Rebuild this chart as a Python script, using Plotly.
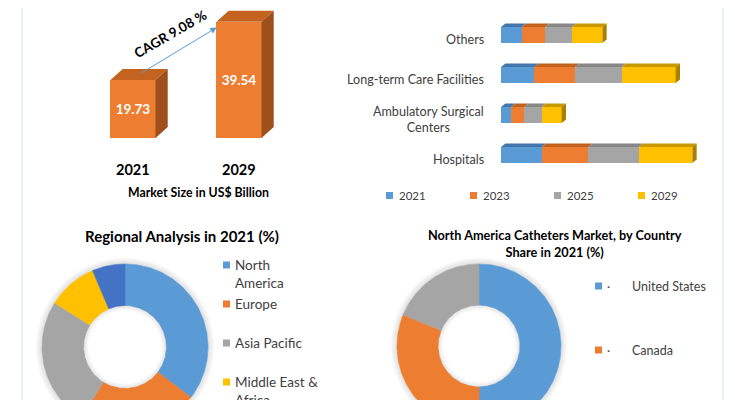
import numpy as np
import plotly.graph_objects as go

# page body adds an 8px margin; figure is sized/offset to fill the 735x400 window
OFF = 8
W, H = 735 - OFF, 400 - OFF
FONT = "Lato"

# ---------------- data ----------------
size_years = ["2021", "2029"]
size_values = [19.73, 39.54]
cagr_text = "CAGR 9.08 %"
size_caption = "Market Size in US$ Billion"

enduser_categories = ["Hospitals", "Ambulatory Surgical<br>Centers", "Long-term Care Facilities", "Others"]
enduser_years = ["2021", "2023", "2025", "2029"]
enduser_2021 = [6.1, 1.5, 5.0, 3.1]
enduser_2023 = [7.0, 2.0, 6.1, 3.5]
enduser_2025 = [7.6, 2.6, 7.0, 4.0]
enduser_2029 = [8.0, 3.0, 8.1, 4.6]

region_title = "Regional Analysis in 2021 (%)"
regions = ["North America", "Europe", "Asia Pacific", "Middle East & Africa", "Latin America"]
region_legend_labels = ["North<br>America", "Europe", "Asia Pacific", "Middle East &<br>Africa", "Latin America"]
region_share = [35.4, 23.4, 25.1, 9.7, 6.4]

country_title = "North America Catheters Market, by Country<br>Share in 2021 (%)"
countries = ["United States", "Canada", "Mexico"]
country_share = [50.0, 31.2, 18.8]

# ---------------- styles ----------------
ORANGE, ORANGE_TOP, ORANGE_SIDE = "#ED7D31", "#C4631F", "#9E4F1B"
year_colors = ["#5B9BD5", "#ED7D31", "#A5A5A5", "#FFC000"]
year_top_colors = ["#4277AE", "#C2621F", "#878787", "#C99800"]
year_side_color = "#A98000"
region_colors = ["#5B9BD5", "#ED7D31", "#A5A5A5", "#FFC000", "#4472C4"]
country_colors = ["#5B9BD5", "#ED7D31", "#A5A5A5"]
TXT = "#404040"


def px_x(p):
    return (p - OFF) / W


def px_y(p):
    return 1 - (p - OFF) / H


fig = go.Figure()

# ======== top-left: 3D market size bars ========
bx = list(range(len(size_values)))
bw = 0.425
ddx, ddy = 0.115, 3.75
fig.add_trace(go.Bar(
    x=bx, y=size_values, width=bw, marker=dict(color=ORANGE, line=dict(width=0)),
    text=[f"<b>{v:.2f}</b>" for v in size_values], textposition="inside",
    insidetextanchor="middle", textfont=dict(color="white", size=13.5, family=FONT),
    xaxis="x", yaxis="y", showlegend=False, hoverinfo="x+y"))
tx, ty, sx, sy = [], [], [], []
for xi, v in zip(bx, size_values):
    l, r = xi - bw / 2, xi + bw / 2
    tx += [l, r, r + ddx, l + ddx, l, None]
    ty += [v, v, v + ddy, v + ddy, v, None]
    sx += [r, r + ddx, r + ddx, r, r, None]
    sy += [0, ddy, v + ddy, v, 0, None]
fig.add_trace(go.Scatter(x=tx, y=ty, fill="toself", mode="lines", line=dict(width=0),
                         fillcolor=ORANGE_TOP, xaxis="x", yaxis="y", showlegend=False, hoverinfo="skip"))
fig.add_trace(go.Scatter(x=sx, y=sy, fill="toself", mode="lines", line=dict(width=0),
                         fillcolor=ORANGE_SIDE, xaxis="x", yaxis="y", showlegend=False, hoverinfo="skip"))

annotations = []
for xi, yr in zip(bx, size_years):
    annotations.append(dict(x=xi, y=px_y(170), xref="x", yref="paper", text=f"<b>{yr}</b>",
                            xanchor="center", yanchor="middle",
                            showarrow=False, font=dict(size=14.5, color="#000000", family=FONT)))
annotations.append(dict(x=px_x(198), y=px_y(193), xref="paper", yref="paper", text=f"<b>{size_caption}</b>",
                        xanchor="center", yanchor="middle",
                        showarrow=False, font=dict(size=12.3, color="#000000", family=FONT)))
# CAGR arrow: from top of first bar towards second bar
annotations.append(dict(x=0.79, y=size_values[1] - 1.9, ax=0.066, ay=size_values[0] + 2.1,
                        xref="x", yref="y", axref="x", ayref="y", text="", showarrow=True,
                        arrowhead=2, arrowsize=1.3, arrowwidth=1, arrowcolor="#5B9BD5"))
annotations.append(dict(x=0.35, y=35.4, xref="x", yref="y", text=f"<b>{cagr_text}</b>", textangle=-30,
                        xanchor="center", yanchor="middle",
                        showarrow=False, font=dict(size=13.5, color="#000000", family=FONT)))

# ======== top-right: 3D stacked horizontal bars ========
ypos = list(range(len(enduser_categories)))
hw = 0.4
hdx, hdy = 0.65, 0.09
series = [enduser_2021, enduser_2023, enduser_2025, enduser_2029]
cum = np.zeros(len(ypos))
tops = []
for j, (yr, vals) in enumerate(zip(enduser_years, series)):
    fig.add_trace(go.Bar(y=ypos, x=vals, orientation="h", width=hw, name=yr,
                         marker=dict(color=year_colors[j], line=dict(width=0)),
                         xaxis="x2", yaxis="y2", showlegend=False))
    px_, py_ = [], []
    for yi, l, v in zip(ypos, cum, vals):
        r = l + v
        t = yi + hw / 2
        px_ += [l, r, r + hdx, l + hdx, l, None]
        py_ += [t, t, t + hdy, t + hdy, t, None]
    tops.append((px_, py_, year_top_colors[j]))
    cum = cum + np.array(vals)
for px_, py_, c in tops:
    fig.add_trace(go.Scatter(x=px_, y=py_, fill="toself", mode="lines", line=dict(width=0), fillcolor=c,
                             xaxis="x2", yaxis="y2", showlegend=False, hoverinfo="skip"))
sx, sy = [], []
for yi, R in zip(ypos, cum):
    b, t = yi - hw / 2, yi + hw / 2
    sx += [R, R + hdx, R + hdx, R, R, None]
    sy += [b, b + hdy, t + hdy, t, b, None]
fig.add_trace(go.Scatter(x=sx, y=sy, fill="toself", mode="lines", line=dict(width=0), fillcolor=year_side_color,
                         xaxis="x2", yaxis="y2", showlegend=False, hoverinfo="skip"))
for yi, cat in zip(ypos, enduser_categories):
    annotations.append(dict(x=px_x(486), y=yi, xref="paper", yref="y2", text=cat, xanchor="right",
                            yanchor="middle", align="center", yshift=-4, showarrow=False,
                            font=dict(size=12.6, color=TXT, family=FONT)))

shapes = []
for j, yr in enumerate(enduser_years):
    x0 = 386 + 84 * j
    shapes.append(dict(type="rect", xref="paper", yref="paper", x0=px_x(x0), x1=px_x(x0 + 7),
                       y0=px_y(199), y1=px_y(192), fillcolor=year_colors[j], line=dict(width=0)))
    annotations.append(dict(x=px_x(x0 + 11), y=px_y(195.5), xref="paper", yref="paper", text=yr,
                            xanchor="left", yanchor="middle", showarrow=False,
                            font=dict(size=11.5, color=TXT, family=FONT)))


# ======== donuts ========
def ring(t0, t1, ro, ri):
    n = max(int(abs(t1 - t0) / 1.5) + 2, 4)
    th = np.radians(np.linspace(t0, t1, n))
    x = np.concatenate([ro * np.sin(th), ri * np.sin(th[::-1])])
    y = np.concatenate([ro * np.cos(th), ri * np.cos(th[::-1])])
    return list(np.append(x, x[0])), list(np.append(y, y[0]))


def donut(names, shares, colors, xa, ya):
    # soft shadow
    for k in range(1, 7):
        x, y = ring(0, 360, 1.0 + 0.013 * k, 1.0)
        fig.add_trace(go.Scatter(x=x, y=y, fill="toself", mode="lines", line=dict(width=0),
                                 fillcolor="rgba(0,0,0,0.018)", xaxis=xa, yaxis=ya,
                                 showlegend=False, hoverinfo="skip"))
    total = sum(shares)
    a = 0.0
    for nm, s, c in zip(names, shares, colors):
        b = a + 360.0 * s / total
        x, y = ring(a, b, 1.0, 0.5)
        fig.add_trace(go.Scatter(x=x, y=y, fill="toself", mode="lines", line=dict(width=0.6, color=c),
                                 fillcolor=c, name=nm, xaxis=xa, yaxis=ya, showlegend=False,
                                 hoverinfo="name", hoveron="fills"))
        a = b
    for k in range(1, 6):
        x, y = ring(0, 360, 0.5, 0.5 - 0.012 * k)
        fig.add_trace(go.Scatter(x=x, y=y, fill="toself", mode="lines", line=dict(width=0),
                                 fillcolor="rgba(0,0,0,0.02)", xaxis=xa, yaxis=ya,
                                 showlegend=False, hoverinfo="skip"))


donut(regions, region_share, region_colors, "x3", "y3")
donut(countries, country_share, country_colors, "x4", "y4")

annotations.append(dict(x=px_x(182), y=px_y(236), xref="paper", yref="paper", text=f"<b>{region_title}</b>",
                        xanchor="center", yanchor="middle",
                        showarrow=False, font=dict(size=15, color="#000000", family=FONT)))
annotations.append(dict(x=px_x(555), y=px_y(243.5), xref="paper", yref="paper",
                        text="<b>" + country_title.replace("<br>", "</b><br><b>") + "</b>",
                        xanchor="center", yanchor="middle",
                        showarrow=False, font=dict(size=12.7, color="#000000", family=FONT)))

for i, (lab, c) in enumerate(zip(region_legend_labels, region_colors)):
    cy = 265 + 39 * i
    shapes.append(dict(type="rect", xref="paper", yref="paper", x0=px_x(223), x1=px_x(230),
                       y0=px_y(cy + 3.5), y1=px_y(cy - 3.5), fillcolor=c, line=dict(width=0)))
    annotations.append(dict(x=px_x(233), y=px_y(cy - 10), xref="paper", yref="paper", text=lab,
                            xanchor="left", yanchor="top", align="left", showarrow=False,
                            font=dict(size=13.5, color=TXT, family=FONT)))

for i, (lab, c) in enumerate(zip(countries, country_colors)):
    cy = 286 + 64 * i
    shapes.append(dict(type="rect", xref="paper", yref="paper", x0=px_x(595), x1=px_x(602),
                       y0=px_y(cy + 3.5), y1=px_y(cy - 3.5), fillcolor=c, line=dict(width=0)))
    annotations.append(dict(x=px_x(605), y=px_y(cy), xref="paper", yref="paper", text="·",
                            xanchor="left", yanchor="middle", showarrow=False,
                            font=dict(size=12, color=TXT, family=FONT)))
    annotations.append(dict(x=px_x(630), y=px_y(cy), xref="paper", yref="paper", text=lab,
                            xanchor="left", yanchor="middle", showarrow=False,
                            font=dict(size=12.5, color=TXT, family=FONT)))

# faint frame lines
for xl in (22, 723):
    shapes.append(dict(type="line", xref="paper", yref="paper", x0=px_x(xl), x1=px_x(xl), y0=0, y1=1,
                       line=dict(color="#E5EBF1", width=1.5)))


def ax(**kw):
    d = dict(visible=False, fixedrange=True, showgrid=False, zeroline=False)
    d.update(kw)
    return d


# donut axes: left center (125,347) r=83 ; right center (479,346) r=82
def donut_axes(cx, cy, r, x0, x1, y0, y1):
    xa = ax(domain=[px_x(x0), px_x(x1)], range=[(x0 - cx) / r, (x1 - cx) / r])
    ya = ax(domain=[px_y(y1), px_y(y0)], range=[(cy - y1) / r, (cy - y0) / r])
    return xa, ya


x3, y3 = donut_axes(125, 347, 83, 28, 221, 250, 400)
x4, y4 = donut_axes(479, 346, 82, 385, 578, 250, 400)

scale_tl = 2.937
fig.update_layout(
    width=W, height=H, margin=dict(l=0, r=0, t=0, b=0),
    paper_bgcolor="white", plot_bgcolor="rgba(0,0,0,0)",
    barmode="stack", showlegend=False, font=dict(family=FONT, color=TXT),
    xaxis=ax(domain=[px_x(80), px_x(292)], range=[-0.5, 1.5]),
    yaxis=ax(domain=[px_y(138), px_y(8)], range=[0, 130 / scale_tl]),
    xaxis2=ax(domain=[px_x(501), px_x(721)], range=[0, 33]),
    yaxis2=ax(domain=[px_y(175), px_y(15)], range=[-0.5, 3.5]),
    xaxis3=x3, yaxis3=y3, xaxis4=x4, yaxis4=y4,
    annotations=annotations, shapes=shapes,
)

fig.write_html("out.html")
